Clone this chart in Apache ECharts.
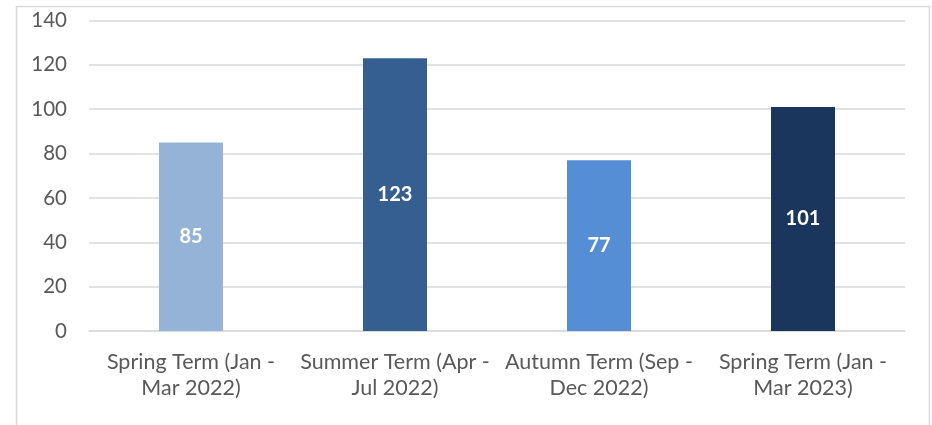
<!DOCTYPE html>
<html lang="en">
<head>
  <meta charset="UTF-8">
  <title>Terms</title>
  <style>
    html, body { margin: 0; padding: 0; background: #fff; }
    #main { width: 932px; height: 425px; }
  </style>
</head>
<body>
  <div id="main"></div>
  <script src="https://cdn.jsdelivr.net/npm/echarts@6/dist/echarts.min.js"></script>
  <script>
    var categories = [
      'Spring Term (Jan -\nMar 2022)',
      'Summer Term (Apr -\nJul 2022)',
      'Autumn Term (Sep -\nDec 2022)',
      'Spring Term (Jan -\nMar 2023)'
    ];
    var values = [85, 123, 77, 101];
    var barColors = ['#95b3d7', '#355f91', '#558ed5', '#1b365d'];

    var chart = echarts.init(document.getElementById('main'));
    var font = 'Lato, "Open Sans", sans-serif';
    chart.setOption({
      animation: false,
      textStyle: { fontFamily: font },
      graphic: [{
        type: 'rect',
        shape: { x: 16.5, y: 6.5, width: 913, height: 430 },
        style: { fill: 'none', stroke: '#d9d9d9', lineWidth: 1.5 },
        silent: true
      }],
      grid: { left: 89, right: 27, top: 20.5, bottom: 94 },
      xAxis: {
        type: 'category',
        data: categories,
        axisLine: { lineStyle: { color: '#d9d9d9', width: 1.5 } },
        axisTick: { show: false },
        axisLabel: {
          interval: 0,
          color: '#595959',
          fontSize: 21.5,
          lineHeight: 26,
          margin: 18,
          fontFamily: font
        }
      },
      yAxis: {
        type: 'value',
        min: 0,
        max: 140,
        interval: 20,
        axisLine: { show: false },
        axisTick: { show: false },
        splitLine: { lineStyle: { color: '#d9d9d9', width: 1.5 } },
        axisLabel: { color: '#595959', fontSize: 20.5, margin: 22, fontFamily: font }
      },
      series: [{
        type: 'bar',
        barWidth: 64,
        data: values.map(function (v, i) {
          return { value: v, itemStyle: { color: barColors[i] } };
        }),
        label: {
          show: true,
          position: 'inside',
          color: '#fff',
          fontWeight: 'bold',
          fontSize: 20,
          fontFamily: font
        }
      }]
    });
  </script>
</body>
</html>
